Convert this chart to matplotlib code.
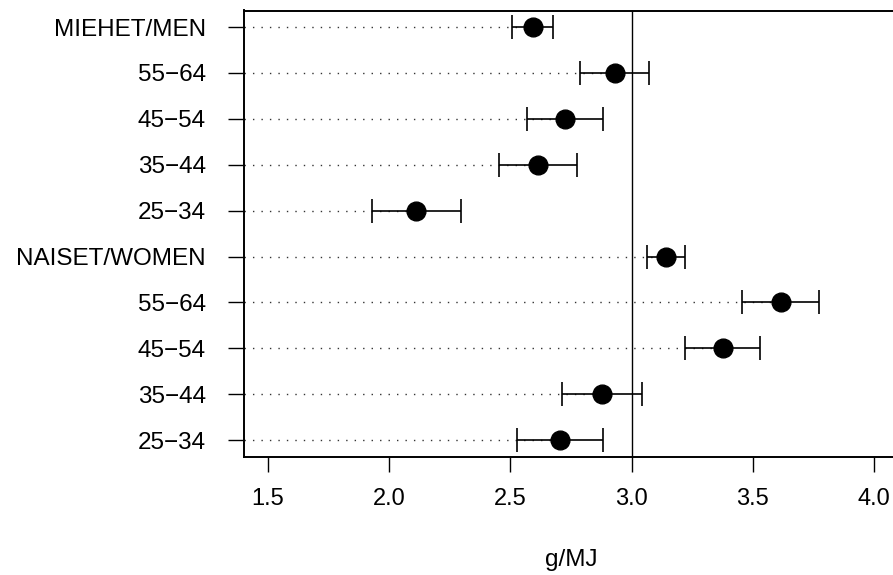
import matplotlib
matplotlib.use("Agg")
import matplotlib.pyplot as plt

plt.rcParams['font.family'] = ['Liberation Sans', 'DejaVu Sans']

labels = ["MIEHET/MEN", "55−64", "45−54", "35−44", "25−34",
          "NAISET/WOMEN", "55−64", "45−54", "35−44", "25−34"]
means = [2.592, 2.931, 2.725, 2.612, 2.112, 3.143, 3.615, 3.375, 2.876, 2.703]
lower = [2.507, 2.787, 2.569, 2.452, 1.930, 3.064, 3.455, 3.218, 2.712, 2.525]
upper = [2.677, 3.071, 2.881, 2.773, 2.296, 3.221, 3.774, 3.531, 3.041, 2.881]
xticks = [1.5, 2.0, 2.5, 3.0, 3.5, 4.0]
xlabel = "g/MJ"
ref_line = 3.0

W, H = 893, 575
fig = plt.figure(figsize=(W / 100, H / 100), dpi=100)
left_px, top_px, bottom_px = 243.7, 10.5, 456.7
px_per_unit = 242.5
xlim = (1.4, 4.1)
width_px = (xlim[1] - xlim[0]) * px_per_unit
ax = fig.add_axes([left_px / W, (H - bottom_px) / H, width_px / W, (bottom_px - top_px) / H])

n = len(labels)
ys = list(range(n, 0, -1))

for y, m in zip(ys, means):
    ax.plot([xlim[0], m], [y, y], linestyle=(0, (1, 5.1)), lw=1.0, color='#333333', zorder=1)

ax.axvline(ref_line, color='black', lw=1.0, zorder=2)

for y, m, lo, hi in zip(ys, means, lower, upper):
    ax.errorbar([m], [y], xerr=[[m - lo], [hi - m]], fmt='none', ecolor='black',
                elinewidth=1.2, capsize=8.3, capthick=1.2, zorder=3)
ax.plot(means, ys, 'o', color='black', markersize=13.5, zorder=4)

ax.set_xlim(*xlim)
ax.set_ylim(0.64, n + 0.36)
ax.set_yticks(ys)
ax.set_yticklabels(labels, fontsize=17.5)
ax.set_xticks(xticks)
ax.set_xticklabels([f"{t:.1f}" for t in xticks], fontsize=17)
ax.tick_params(axis='y', length=11.3, width=1.0, pad=16)
ax.tick_params(axis='x', length=10.8, width=1.0, pad=12)
for s in ax.spines.values():
    s.set_linewidth(1.4)
ax.set_xlabel(xlabel, fontsize=17.5, labelpad=28)

fig.savefig("out.png", dpi=100)
